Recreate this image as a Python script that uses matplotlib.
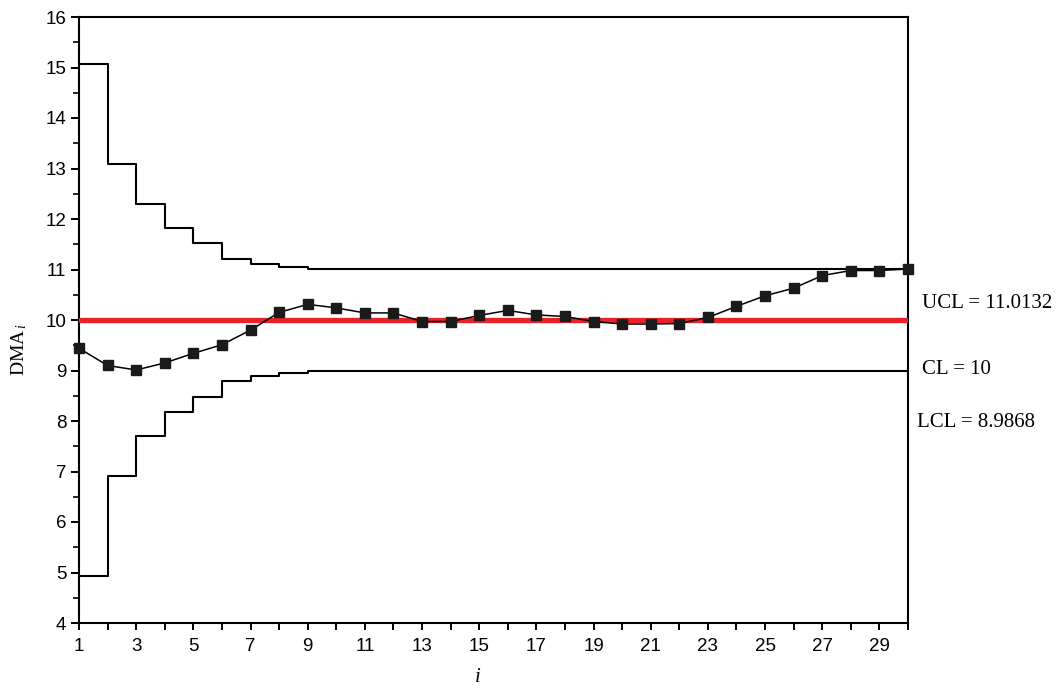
import matplotlib
matplotlib.use("Agg")
import matplotlib.pyplot as plt
from matplotlib.ticker import MultipleLocator, FixedLocator

# Sample index and double-moving-average statistic
sample_i = list(range(1, 31))
dma_values = [9.44, 9.10, 9.01, 9.15, 9.34, 9.51, 9.80, 10.15, 10.31, 10.24,
              10.14, 10.14, 9.97, 9.97, 10.09, 10.19, 10.10, 10.07, 9.97, 9.92,
              9.92, 9.93, 10.05, 10.27, 10.48, 10.63, 10.88, 10.98, 10.98, 11.01]

# Control limits (step-wise, converging to the steady-state values)
center_line = 10.0
ucl_values = [15.06, 13.08, 12.29, 11.83, 11.53, 11.21, 11.11, 11.05] + [11.0132] * 22
lcl_values = [4.94, 6.92, 7.71, 8.17, 8.47, 8.79, 8.89, 8.95] + [8.9868] * 22

limit_labels = ["UCL = 11.0132", "CL = 10", "LCL = 8.9868"]
limit_label_y = [10.33, 9.02, 7.98]

plt.rcParams["mathtext.fontset"] = "custom"
plt.rcParams["mathtext.rm"] = "Liberation Serif"
plt.rcParams["mathtext.it"] = "Liberation Serif:italic"

fig = plt.figure(figsize=(10.56, 6.88), dpi=100)
ax = fig.add_axes([79 / 1056, 1 - 623 / 688, (908 - 79) / 1056, (623 - 17) / 688])

ax.step(sample_i, ucl_values, where="post", color="black", lw=1.5)
ax.step(sample_i, lcl_values, where="post", color="black", lw=1.5)
ax.axhline(center_line, color="#e8212b", lw=3.8, zorder=3)
ax.plot(sample_i, dma_values, color="black", lw=1.1, marker="s",
        markersize=7.3, markerfacecolor="#1a1a1a", markeredgecolor="#1a1a1a",
        zorder=4, clip_on=False)

ax.set_xlim(1, 30)
ax.set_ylim(4, 16)

ax.xaxis.set_major_locator(FixedLocator(list(range(1, 30, 2))))
ax.xaxis.set_minor_locator(FixedLocator(list(range(2, 31, 2))))
ax.yaxis.set_major_locator(MultipleLocator(1))
ax.yaxis.set_minor_locator(MultipleLocator(0.5))

tick_font = {"family": "Liberation Sans", "size": 13.5}
ax.set_xticklabels([str(v) for v in range(1, 30, 2)], fontdict=tick_font)
ax.set_yticks(list(range(4, 17)))
ax.set_yticklabels([str(v) for v in range(4, 17)], fontdict=tick_font)

ax.tick_params(axis="x", which="both", direction="out", length=5, width=1.4,
               pad=6, colors="black")
ax.tick_params(axis="y", which="major", direction="out", length=6, width=1.4,
               pad=3)
ax.tick_params(axis="y", which="minor", direction="out", length=4, width=1.2)
for side in ("top", "right", "bottom", "left"):
    ax.spines[side].set_linewidth(1.5)
    ax.spines[side].set_color("black")

for text, yv in zip(limit_labels, limit_label_y):
    x0 = 30.48 if not text.startswith("LCL") else 30.31
    ax.text(x0, yv, text, ha="left", va="center", fontsize=15,
            family="Liberation Serif", clip_on=False)

fig.text(19 / 1056, 1 - 350 / 688, r"$\mathrm{DMA}_{\,i}$", rotation=90,
         ha="center", va="center", fontsize=14)
fig.text(478 / 1056, 1 - 676 / 688, r"$i$", ha="center", va="center",
         fontsize=15)

fig.savefig("out.png", dpi=100, facecolor="white")
